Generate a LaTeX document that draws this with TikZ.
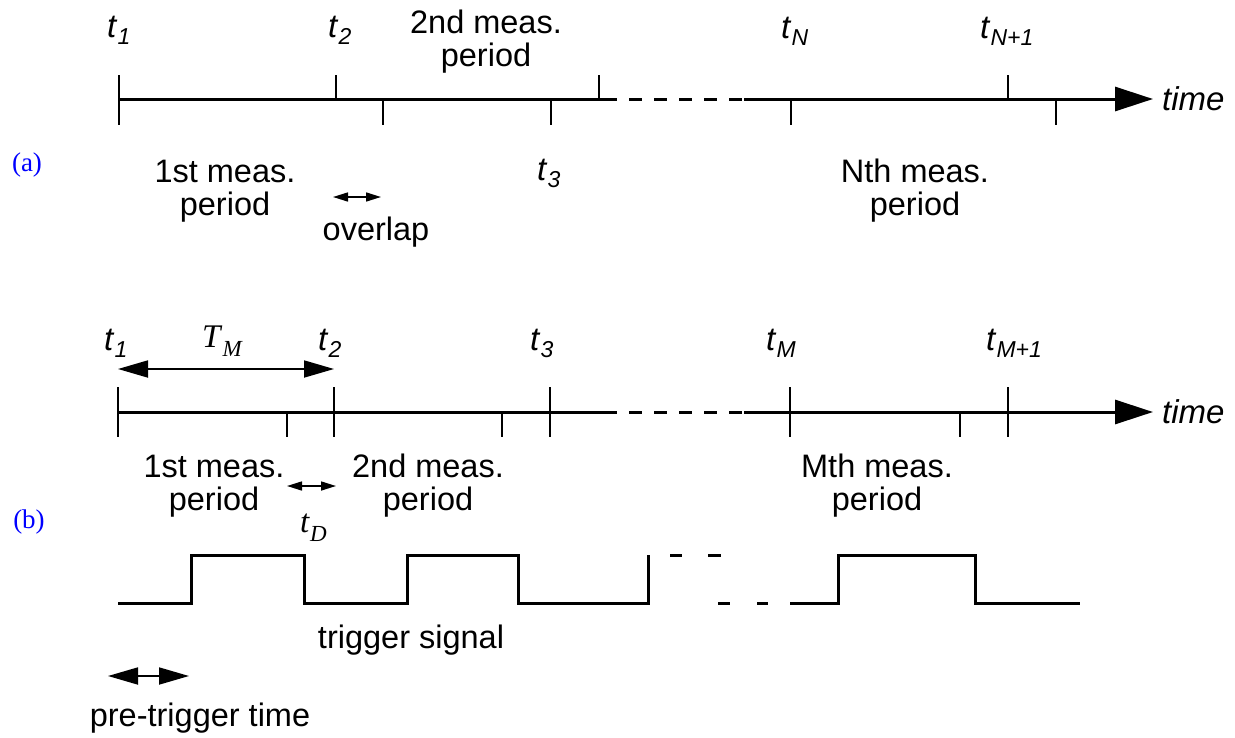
\documentclass[tikz,border=0pt]{standalone}
\usepackage{fontspec}
\setmainfont{Liberation Sans}
\newfontfamily\seriffam{Liberation Serif}
\usetikzlibrary{arrows.meta}
\newcommand{\tl}[1]{\textit{t}\raisebox{-0.22em}{\fontsize{23}{23}\selectfont\itshape #1}}
\begin{document}
\begin{tikzpicture}[x=1pt,y=-1pt,
  txt/.style={font=\fontsize{32.5}{33}\selectfont, align=center, inner sep=0pt},
  tlab/.style={font=\fontsize{33}{33}\selectfont, anchor=base west, inner sep=0pt},
  axisline/.style={line width=3pt},
  dashline/.style={line width=3pt, dash pattern=on 13pt off 12pt},
  tickline/.style={line width=2.6pt},
  bigarrow/.style={line width=1.8pt, {Triangle[length=30pt,width=17pt]}-{Triangle[length=30pt,width=17pt]}},
  smallarrow/.style={line width=1.6pt, {Triangle[length=15pt,width=9pt]}-{Triangle[length=15pt,width=9pt]}},
  axisarrow/.style={line width=3pt, -{Triangle[length=38pt,width=24pt]}},
  sig/.style={line width=3pt},
  panel/.style={font=\seriffam\fontsize{27}{27}\selectfont, text=blue, inner sep=0pt}
]
\useasboundingbox (0,0) rectangle (1235,737);

% ================= panel (a) =================
\coordinate (a0) at (119,99);
\coordinate (a1) at (604,99);
\coordinate (a2) at (744,99);
\coordinate (a3) at (1153,99);
\draw[axisline] (a0) -- (a1);
\draw[dashline] (a1) -- (a2);
\draw[axisarrow] (a2) -- (a3);
% ticks
\draw[tickline] (119,75) -- (119,125);
\draw[tickline] (336,75) -- (336,99);
\draw[tickline] (383,99) -- (383,125);
\draw[tickline] (551,99) -- (551,125);
\draw[tickline] (599,75) -- (599,99);
\draw[tickline] (791,99) -- (791,125);
\draw[tickline] (1008,75) -- (1008,99);
\draw[tickline] (1056,99) -- (1056,125);

\node[tlab] (at1) at (107,37) {\tl{1}};
\node[tlab] (at2) at (328,37) {\tl{2}};
\node[tlab] (at3) at (537,180) {\tl{3}};
\node[tlab] (atN) at (781,38) {\tl{N}};
\node[tlab] (atN1) at (980,38) {\tl{N+1}};
\node[tlab] (atime) at (1162,110) {\textit{time}};

\node[txt, anchor=base] (a2nd) at (486,66) {2nd meas.\\period};
\node[txt, anchor=base] (a1st) at (225,215) {1st meas.\\period};
\node[txt, anchor=base] (aNth) at (915,215) {Nth meas.\\period};
\node[txt, anchor=base] (aover) at (376,240) {overlap};
\coordinate (ov1) at (333,197);
\coordinate (ov2) at (381,197);
\draw[smallarrow] (ov1) -- (ov2);

\node[panel] (pa) at (27,165) {(a)};

% ================= panel (b) =================
\coordinate (b0) at (118,412);
\coordinate (b1) at (604,412);
\coordinate (b2) at (744,412);
\coordinate (b3) at (1153,412);
\draw[axisline] (b0) -- (b1);
\draw[dashline] (b1) -- (b2);
\draw[axisarrow] (b2) -- (b3);
\draw[tickline] (118,387) -- (118,437);
\draw[tickline] (287,412) -- (287,437);
\draw[tickline] (334,387) -- (334,437);
\draw[tickline] (502,412) -- (502,437);
\draw[tickline] (550,387) -- (550,437);
\draw[tickline] (790,387) -- (790,437);
\draw[tickline] (960,412) -- (960,437);
\draw[tickline] (1008,387) -- (1008,437);

\node[tlab] (bt1) at (104,350) {\tl{1}};
\node[tlab] (bt2) at (318,350) {\tl{2}};
\node[tlab] (bt3) at (530,350) {\tl{3}};
\node[tlab] (btM) at (766,350) {\tl{M}};
\node[tlab] (btM1) at (986,350) {\tl{M+1}};
\node[tlab] (btime) at (1162,423) {\textit{time}};
\node[tlab, font=\seriffam\fontsize{33}{33}\selectfont] (bTM) at (202,347) {\textit{T}\raisebox{-0.3em}{\fontsize{23}{23}\selectfont\itshape M}};
\coordinate (tm1) at (118,369);
\coordinate (tm2) at (334,369);
\draw[bigarrow] (tm1) -- (tm2);

\node[txt, anchor=base] (b1st) at (214,510) {1st meas.\\period};
\node[txt, anchor=base] (b2nd) at (428,510) {2nd meas.\\period};
\node[txt, anchor=base] (bMth) at (877,510) {Mth meas.\\period};
\coordinate (td1) at (287,486);
\coordinate (td2) at (336,486);
\draw[smallarrow] (td1) -- (td2);
\node[tlab, font=\seriffam\fontsize{33}{33}\selectfont] (btD) at (300,532) {\textit{t}\raisebox{-0.3em}{\fontsize{23}{23}\selectfont\itshape D}};

\node[panel] (pb) at (29,522) {(b)};

% trigger signal
\draw[sig] (118,603) -- (191,603) -- (191,555) -- (304,555) -- (304,603) -- (407,603) -- (407,555) -- (518,555) -- (518,603) -- (648,603) -- (648,555);
\draw[sig] (670,555) -- (682,555);
\draw[sig] (708,555) -- (721,555);
\draw[sig] (718,603) -- (730,603);
\draw[sig] (757,603) -- (768,603);
\draw[sig] (790,603) -- (838,603) -- (838,555) -- (975,555) -- (975,603) -- (1080,603);
\node[txt, anchor=base] (trig) at (411,648) {trigger signal};

\coordinate (pt1) at (108,676);
\coordinate (pt2) at (189,676);
\draw[bigarrow] (pt1) -- (pt2);
\node[txt, anchor=base] (pre) at (200,726) {pre-trigger time};
\end{tikzpicture}
\end{document}
